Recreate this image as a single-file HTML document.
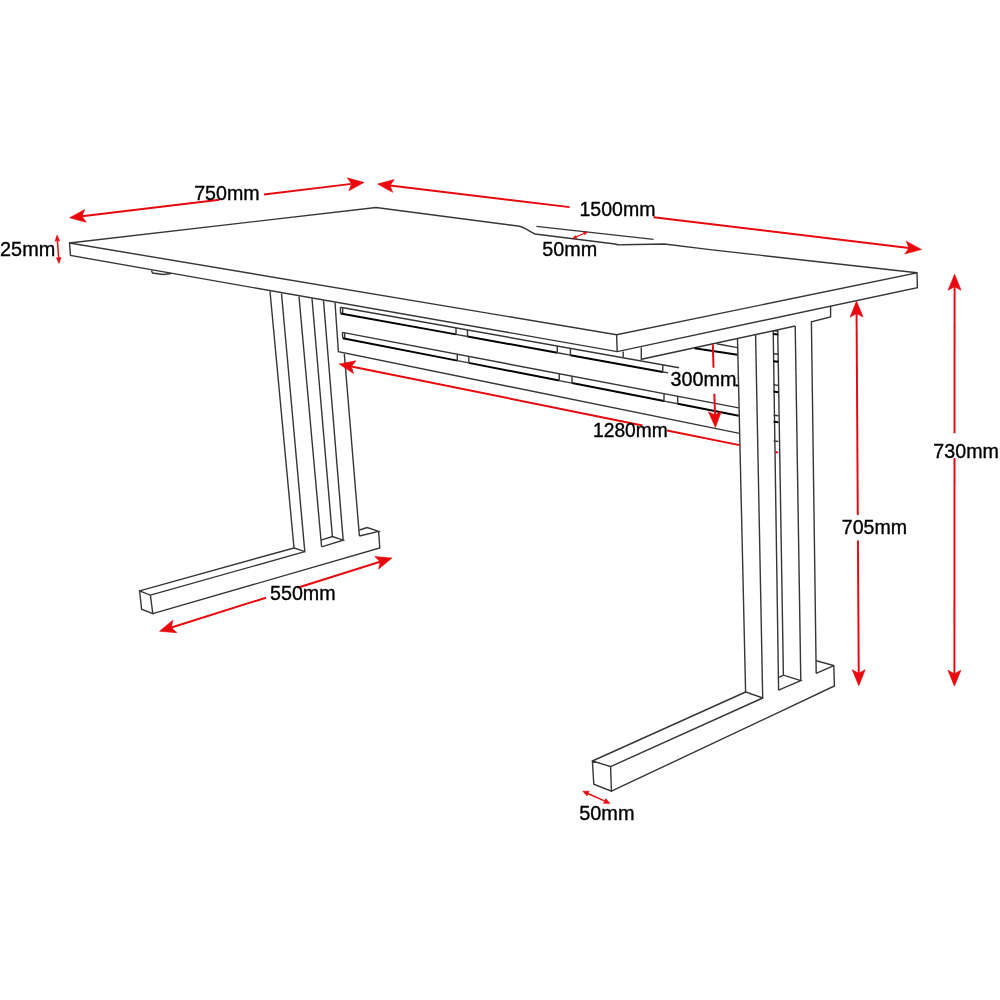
<!DOCTYPE html>
<html><head><meta charset="utf-8"><style>
html,body{margin:0;padding:0;background:#fff;}
svg{display:block;will-change:transform;}
.k{fill:none;stroke:#363636;stroke-width:1.4;stroke-linejoin:miter;stroke-linecap:butt;}
.kt{fill:none;stroke:#000;stroke-width:2;stroke-linecap:butt;}
.rl{fill:none;stroke:#e8080e;stroke-width:1.95;}
.rs{fill:none;stroke:#e8080e;stroke-width:1.5;}
.rt{fill:none;stroke:#e8080e;stroke-width:1.1;}
.rf{fill:#e8080e;stroke:#e8080e;stroke-width:0.6;stroke-linejoin:round;}
text{font-family:"Liberation Sans",sans-serif;fill:#000;stroke:#000;stroke-width:0.35;}
</style></head><body>
<svg width="1000" height="1000" viewBox="0 0 1000 1000">
<rect width="1000" height="1000" fill="#fff"/>
<path d="M69.5,243 L376,207.5 L518,226 C525,227 529,231.5 535,234 L615,244 C618,245 620,245 622.4,244.8 L664.4,244 L710,249.6 L917,272.8" class="k"/>
<path d="M536.4,226.4 L653.6,239.4" class="k"/>
<path d="M69.5,243 L616.6,334.8 L917,272.8 L917.4,287.6 L617.2,351.6 L70.5,255.5 Z" class="k"/>
<path d="M616.6,334.8 L617.2,351.6" class="k"/>
<path d="M151.5,270.5 L152.5,273 L163.5,274.5 L171,273.5" class="k"/>
<path d="M270,291.2 L294,548 L304.8,551.6 L281.5,293.5" class="k"/>
<path d="M299,296.5 L321,540.2 L321.6,546.8" class="k"/>
<path d="M321,540.2 L332.4,536.6 L343.2,540.2 L321.6,546.8" class="k"/>
<path d="M312,298.5 L332.4,536.6" class="k"/>
<path d="M323.5,300.5 L343.2,540.2" class="k"/>
<path d="M344.3,353.85 L359.4,536" class="k"/>
<path d="M359.4,530 L367.2,527.6 L378.6,531.4 L359.4,536" class="k"/>
<path d="M378.6,531.4 L379.8,548 L152.8,613.6" class="k"/>
<path d="M139.6,590.8 L294,548" class="k"/>
<path d="M150.4,595.2 L304.8,551.6" class="k"/>
<path d="M139.6,590.8 L150.4,595.2 L152.8,613.6 L141.6,609.2 Z" class="k"/>
<path d="M335,302.5 L338.4,351.75 L739.5,433.4" class="k"/>
<path d="M340.4,307.2 L340.6,313.4 M342.6,307.6 L342.8,313.8" class="k"/>
<path d="M340.4,307.2 L679,367.81" class="k"/>
<path d="M737.6,378.30 L739.00,378.55" class="k"/>
<path d="M340.6,313.40 L456,334.37" class="kt"/>
<path d="M467.5,336.46 L557.3,352.77" class="kt"/>
<path d="M570.4,355.15 L662.8,371.94" class="kt"/>
<path d="M456,334.37 L467.5,336.46" class="k"/>
<path d="M456,327.89 L456,334.37" class="k"/>
<path d="M467.5,329.95 L467.5,336.46" class="k"/>
<path d="M557.3,352.77 L570.4,355.15" class="k"/>
<path d="M557.3,346.03 L557.3,352.77" class="k"/>
<path d="M570.4,348.37 L570.4,355.15" class="k"/>
<path d="M662.8,371.94 L668,372.89" class="k"/>
<path d="M662.8,364.91 L662.8,371.94" class="k"/>
<path d="M735.5,385.15 L739,385.79" class="kt"/>
<path d="M342.4,332.4 L342.8,338.2 M344.6,332.8 L344.9,338.6" class="k"/>
<path d="M342.4,332.4 L738.8,407.91" class="k"/>
<path d="M342.8,338.20 L457.3,360.62" class="kt"/>
<path d="M468.8,362.87 L559.2,380.57" class="kt"/>
<path d="M572,383.08 L664,401.09" class="kt"/>
<path d="M677.7,403.77 L738.8,415.74" class="kt"/>
<path d="M457.3,360.62 L468.8,362.87" class="k"/>
<path d="M457.3,354.29 L457.3,360.62" class="k"/>
<path d="M468.8,356.48 L468.8,362.87" class="k"/>
<path d="M559.2,380.57 L572,383.08" class="k"/>
<path d="M559.2,373.70 L559.2,380.57" class="k"/>
<path d="M572,376.14 L572,383.08" class="k"/>
<path d="M664,401.09 L677.7,403.77" class="k"/>
<path d="M664,393.66 L664,401.09" class="k"/>
<path d="M677.7,396.27 L677.7,403.77" class="k"/>
<path d="M623.2,351.6 L623.2,357" class="k"/>
<path d="M641.3,347.6 L641.3,359.3 L795.2,326" class="k"/>
<path d="M830.6,306 L830.6,317 L811.4,321.8 L816.2,673.4" class="k"/>
<path d="M716.7,343.7 L737.5,347.6" class="k"/>
<path d="M694.6,348.2 L737.5,354.7" class="kt"/>
<path d="M737.5,338.5 L745.6,692 L762.7,698 L755.6,335" class="k"/>
<path d="M773.2,331 L778.6,690.2" class="k"/>
<path d="M777.7,330 L783.4,675.2" class="k"/>
<path d="M795.2,326 L800.8,680.6" class="k"/>
<path d="M778.3,677.6 L783.4,675.2 L800.8,680.6 L778.6,690.2" class="k"/>
<path d="M816.2,660.8 L833.8,665.6 L834.4,686 L611.4,791.2" class="k"/>
<path d="M816.2,673.4 L833.8,665.6" class="k"/>
<path d="M592.4,761 L745.6,692" class="k"/>
<path d="M610.6,766.6 L762.7,698" class="k"/>
<path d="M592.4,761 L610.6,766.6 L611.4,791.2 L593.8,784.2 Z" class="k"/>
<path d="M773.6,330.8 L778.4,331.4" class="k"/>
<path d="M773.6,333.9 L778.4,334.5" class="kt"/>
<path d="M773.6,353.7 L778.4,354.3" class="k"/>
<path d="M773.6,361.2 L778.4,361.8" class="kt"/>
<path d="M773.6,384.8 L778.4,385.4" class="k"/>
<path d="M773.6,391.6 L778.4,392.2" class="kt"/>
<path d="M773.6,415.2 L778.4,415.8" class="k"/>
<path d="M773.6,421.7 L778.4,422.3" class="kt"/>
<path d="M773.6,440.9 L778.4,441.5" class="k"/>
<path d="M82.01,216.31 L219.60,199.76" class="rl"/>
<path d="M264.00,194.42 L351.59,183.89" class="rl"/>
<path d="M69.60,217.80 L84.71,209.44 L82.01,216.31 L86.26,222.34 Z" class="rf"/>
<path d="M364.00,182.40 L348.89,190.76 L351.59,183.89 L347.34,177.86 Z" class="rf"/>
<path d="M390.01,185.49 L569.60,207.13" class="rl"/>
<path d="M653.60,217.24 L908.99,248.01" class="rl"/>
<path d="M377.60,184.00 L394.26,179.46 L390.01,185.49 L392.71,192.37 Z" class="rf"/>
<path d="M921.40,249.50 L904.74,254.04 L908.99,248.01 L906.29,241.13 Z" class="rf"/>
<path d="M856.57,313.60 L857.78,514.90" class="rl"/>
<path d="M857.93,540.40 L858.73,673.20" class="rl"/>
<path d="M856.50,301.10 L863.10,317.06 L856.57,313.60 L850.10,317.14 Z" class="rf"/>
<path d="M858.80,685.70 L852.20,669.74 L858.73,673.20 L865.20,669.66 Z" class="rf"/>
<path d="M954.59,286.70 L954.52,433.20" class="rl"/>
<path d="M954.51,458.00 L954.41,673.70" class="rl"/>
<path d="M954.60,274.20 L961.09,290.20 L954.59,286.70 L948.09,290.20 Z" class="rf"/>
<path d="M954.40,686.20 L947.91,670.20 L954.41,673.70 L960.91,670.20 Z" class="rf"/>
<path d="M171.42,627.49 L266.00,597.70" class="rl"/>
<path d="M297.60,587.74 L380.08,561.76" class="rl"/>
<path d="M159.50,631.25 L172.81,620.24 L171.42,627.49 L176.71,632.64 Z" class="rf"/>
<path d="M392.00,558.00 L378.69,569.01 L380.08,561.76 L374.79,556.61 Z" class="rf"/>
<path d="M351.35,366.48 L642.50,425.45" class="rl"/>
<path d="M667.00,430.42 L739.50,445.10" class="rl"/>
<path d="M339.10,364.00 L356.07,360.81 L351.35,366.48 L353.49,373.55 Z" class="rf"/>
<path d="M775.5,451.5 L778,453" class="rl"/>
<path d="M712.80,344.30 L713.53,367.70" class="rl"/>
<path d="M714.34,393.70 L715.01,415.01" class="rl"/>
<path d="M715.40,427.50 L708.40,411.71 L715.01,415.01 L721.40,411.30 Z" class="rf"/>
<path d="M57.41,240.59 L58.69,258.01" class="rs"/>
<path d="M57.00,235.10 L59.74,240.91 L57.41,240.59 L55.15,241.25 Z" class="rf"/>
<path d="M59.10,263.50 L56.36,257.69 L58.69,258.01 L60.95,257.35 Z" class="rf"/>
<path d="M575.93,236.96 L584.37,233.34" class="rt"/>
<path d="M572.80,238.30 L575.70,235.42 L575.93,236.96 L576.88,238.18 Z" class="rf"/>
<path d="M587.50,232.00 L584.60,234.88 L584.37,233.34 L583.42,232.12 Z" class="rf"/>
<path d="M587.82,793.45 L604.98,801.15" class="rs"/>
<path d="M582.80,791.20 L589.34,791.28 L587.82,793.45 L587.21,796.03 Z" class="rf"/>
<path d="M610.00,803.40 L603.46,803.32 L604.98,801.15 L605.59,798.57 Z" class="rf"/>
<text x="0.05" y="256.10" font-size="19.5" textLength="55.16" lengthAdjust="spacingAndGlyphs">25mm</text>
<text x="194.19" y="199.90" font-size="19.5" textLength="65.50" lengthAdjust="spacingAndGlyphs">750mm</text>
<text x="579.51" y="215.70" font-size="19.5" textLength="75.97" lengthAdjust="spacingAndGlyphs">1500mm</text>
<text x="542.21" y="256.10" font-size="19.5" textLength="55.00" lengthAdjust="spacingAndGlyphs">50mm</text>
<text x="670.55" y="385.50" font-size="19.5" textLength="65.96" lengthAdjust="spacingAndGlyphs">300mm</text>
<text x="593.04" y="436.80" font-size="19.5" textLength="74.73" lengthAdjust="spacingAndGlyphs">1280mm</text>
<text x="933.39" y="457.90" font-size="19.5" textLength="65.50" lengthAdjust="spacingAndGlyphs">730mm</text>
<text x="841.80" y="533.60" font-size="19.5" textLength="65.19" lengthAdjust="spacingAndGlyphs">705mm</text>
<text x="270.01" y="600.10" font-size="19.5" textLength="65.69" lengthAdjust="spacingAndGlyphs">550mm</text>
<text x="579.20" y="820.10" font-size="19.5" textLength="55.31" lengthAdjust="spacingAndGlyphs">50mm</text>
</svg>
</body></html>
